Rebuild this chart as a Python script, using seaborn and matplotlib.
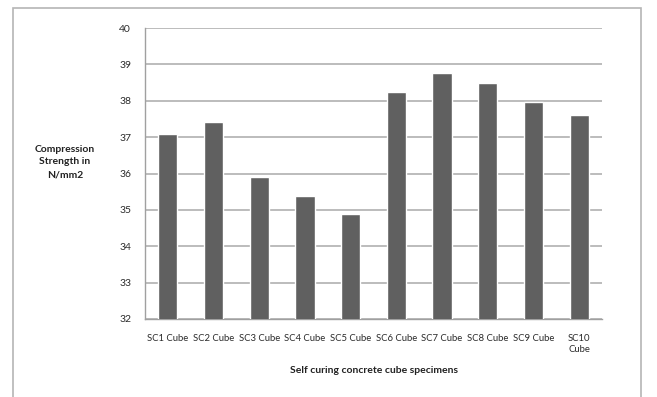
import matplotlib
matplotlib.use('Agg')
import matplotlib.pyplot as plt
import seaborn as sns
import pandas as pd
import numpy as np
from matplotlib.patches import Rectangle

# Data
specimens = ['SC1 Cube', 'SC2 Cube', 'SC3 Cube', 'SC4 Cube', 'SC5 Cube',
             'SC6 Cube', 'SC7 Cube', 'SC8 Cube', 'SC9 Cube', 'SC10\nCube']
strength = [37.08, 37.42, 35.90, 35.38, 34.88, 38.24, 38.77, 38.49, 37.96, 37.60]
y_ticks = [32, 33, 34, 35, 36, 37, 38, 39, 40]

df = pd.DataFrame({'specimen': specimens, 'strength': strength})

sns.set_style('white')
plt.rcParams['font.family'] = ['Lato', 'DejaVu Sans']

W, H = 657, 397
fig = plt.figure(figsize=(W / 100, H / 100), dpi=100)
ax = fig.add_axes([145 / W, 1 - 319 / H, (602 - 145) / W, (319 - 28) / H])

sns.barplot(data=df, x='specimen', y='strength', color='#606060',
            saturation=1, width=0.42, ax=ax, zorder=3)

ax.set_ylim(32, 40)
ax.set_xlim(-0.5, len(specimens) - 0.5)
ax.set_yticks(y_ticks)
ax.yaxis.grid(True, color='#b0b0b0', linewidth=1.2, zorder=0)
ax.set_axisbelow(True)

for s in ['top', 'right']:
    ax.spines[s].set_visible(False)
for s in ['left', 'bottom']:
    ax.spines[s].set_color('#a0a0a0')
    ax.spines[s].set_linewidth(1.0)

# category labels centred, tick marks between categories (Excel style)
ax.set_xticks(np.arange(len(specimens)))
ax.set_xticklabels(specimens, fontsize=6.8, color='#2a2a2a')
ax.tick_params(axis='x', length=0, pad=11)
ax.set_xticks(np.arange(-0.5, len(specimens)), minor=True)
ax.tick_params(axis='x', which='minor', length=4, color='#a0a0a0', direction='out')
ax.tick_params(axis='y', length=4, color='#a0a0a0', direction='out', labelsize=7.5,
               labelcolor='#2a2a2a', pad=6)

ax.set_xlabel('Self curing concrete cube specimens', fontsize=7.5,
              fontweight='bold', color='#222222', labelpad=9)
ax.set_ylabel('')
fig.text(65 / W, 1 - 162 / H, 'Compression\nStrength in\nN/mm2', ha='center',
         va='center', fontsize=7.5, fontweight='bold', color='#222222',
         linespacing=1.5)

# chart area frame
fig.patches.append(Rectangle((13 / W, -0.05), (641 - 13) / W, 1.05 - 8 / H,
                             transform=fig.transFigure, fill=False,
                             edgecolor='#b5b5b5', linewidth=1.2))

fig.savefig('out.png', dpi=100)
